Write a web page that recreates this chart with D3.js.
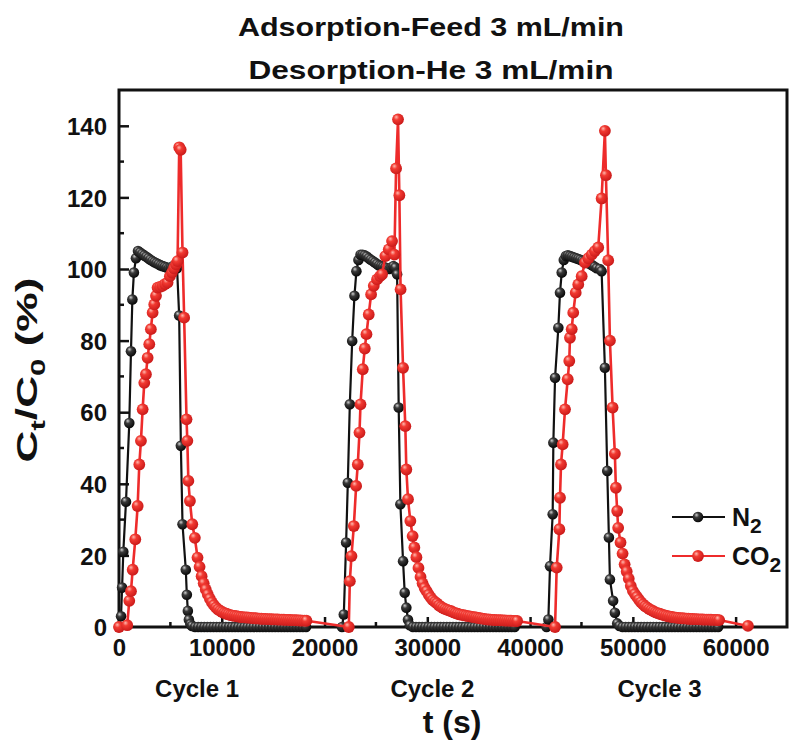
<!DOCTYPE html>
<html><head><meta charset="utf-8">
<script src="https://cdn.jsdelivr.net/npm/d3@7"></script>
<style>
html,body{margin:0;padding:0;background:#fff;}
svg text{font-family:"Liberation Sans",Arial,Helvetica,sans-serif;font-weight:bold;fill:#111;}
</style></head>
<body>
<svg id="chart" width="789" height="747"></svg>
<script>
// ---------- data (t in s, value in %) ----------
const titleLines = ["Adsorption-Feed 3 mL/min", "Desorption-He 3 mL/min"];
const xTicks = [0, 10000, 20000, 30000, 40000, 50000, 60000];
const yTicks = [0, 20, 40, 60, 80, 100, 120, 140];
const cycleLabels = ["Cycle 1", "Cycle 2", "Cycle 3"];
const cycleLabelT = [7600, 30500, 52600];

const n2Cycle1 = [[0,0],[200,3],[300,11],[420,21],[680,35],[1000,57],[1165,77],[1300,91.5],[1450,99],[1650,103],[1850,105],[2050,104.6],[2250,104.2],[2450,103.8],[2650,103.4],[2850,103],[3050,102.6],[3250,102.2],[3450,101.9],[3650,101.6],[3850,101.3],[4050,101],[4250,100.8],[4450,100.6],[4650,100.4],[4850,100.2],[5050,100.4],[5250,100.8],[5450,100.6],[5650,100.2],[5855,87],[6020,50.6],[6180,28.7],[6500,16],[6600,9],[6700,4.5],[6800,2],[6950,0.8],[7100,0.3],[7400,0],[7700,0],[8000,0],[8300,0],[8600,0],[8900,0],[9200,0],[9500,0],[9800,0],[10100,0],[10400,0],[10700,0],[11000,0],[11300,0],[11600,0],[11900,0],[12200,0],[12500,0],[12800,0],[13100,0],[13400,0],[13700,0],[14000,0],[14300,0],[14600,0],[14900,0],[15200,0],[15500,0],[15800,0],[16100,0],[16400,0],[16700,0],[17000,0],[17300,0],[17600,0],[17900,0],[18200,0]];
const n2Cycle2 = [[21700,0],[21875,3.5],[22100,23.6],[22265,40.3],[22460,62.2],[22690,79.9],[22910,92.5],[23100,99.4],[23300,102.5],[23500,104],[23700,104],[23900,103.8],[24100,103.5],[24300,103],[24500,102.6],[24700,102.2],[24900,101.8],[25100,101.4],[25300,101],[25500,100.8],[25700,100.6],[25900,100.4],[26100,100.2],[26300,100],[26500,100.4],[26700,100.8],[26900,100.4],[27060,98.5],[27215,61.3],[27380,34.3],[27640,18.4],[27800,9.6],[27960,5.4],[28120,2],[28300,0.5],[28600,0],[28900,0],[29200,0],[29500,0],[29800,0],[30100,0],[30400,0],[30700,0],[31000,0],[31300,0],[31600,0],[31900,0],[32200,0],[32500,0],[32800,0],[33100,0],[33400,0],[33700,0],[34000,0],[34300,0],[34600,0],[34900,0],[35200,0],[35500,0],[35800,0],[36100,0],[36400,0],[36700,0],[37000,0],[37300,0],[37600,0],[37900,0],[38200,0],[38500,0]];
const n2Cycle3 = [[41600,0],[41780,2.1],[41940,17],[42200,31.5],[42265,51.5],[42430,69.6],[42750,83.6],[42910,93.4],[43080,99],[43280,102.5],[43480,103.6],[43680,103.8],[43880,103.6],[44080,103.4],[44280,103.2],[44480,103],[44680,102.8],[44880,102.6],[45080,102.3],[45280,102],[45480,101.8],[45680,101.6],[45880,101.3],[46080,101],[46280,100.6],[46480,100.2],[46780,100],[46960,99.4],[47280,72.4],[47510,43.6],[47670,25],[47770,13.3],[48080,7.3],[48250,4],[48480,1],[48700,0.3],[49000,0],[49300,0],[49600,0],[49900,0],[50200,0],[50500,0],[50800,0],[51100,0],[51400,0],[51700,0],[52000,0],[52300,0],[52600,0],[52900,0],[53200,0],[53500,0],[53800,0],[54100,0],[54400,0],[54700,0],[55000,0],[55300,0],[55600,0],[55900,0],[56200,0],[56500,0],[56800,0],[57100,0],[57400,0],[57700,0],[58000,0],[58300,0]];

const co2Cycle1 = [[0,0],[800,0.5],[1000,7.3],[1165,10],[1330,16],[1585,24.5],[1815,33.8],[1975,45.4],[2135,52],[2300,60.8],[2460,68.2],[2620,70.6],[2785,75.2],[2945,79],[3100,83.2],[3270,87.8],[3430,90.1],[3600,92.5],[3755,94.8],[4000,95],[4240,95.3],[4480,95.8],[4725,96.2],[4950,98],[5150,99],[5350,100.2],[5550,101.3],[5700,102.2],[5860,134],[6000,133.3],[6180,104.6],[6340,86.4],[6570,58],[6650,52],[6750,40.8],[6900,35.2],[7130,28.7],[7380,24.9],[7640,19.4],[7840,16.8],[8040,14.2],[8240,12.2],[8440,10.5],[8640,9.1],[8840,7.9],[9040,6.9],[9240,6.1],[9440,5.4],[9640,4.9],[9840,4.5],[10040,4.2],[10240,3.9],[10440,3.7],[10640,3.5],[10840,3.3],[11040,3.2],[11240,3.1],[11440,3.0],[11640,2.9],[11840,2.8],[12040,2.75],[12240,2.7],[12440,2.65],[12640,2.6],[12840,2.55],[13040,2.5],[13240,2.45],[13440,2.4],[13640,2.35],[13840,2.3],[14040,2.28],[14240,2.25],[14440,2.22],[14640,2.2],[14840,2.17],[15040,2.15],[15240,2.12],[15440,2.1],[15640,2.08],[15840,2.05],[16040,2.02],[16240,2.0],[16440,1.98],[16640,1.95],[16840,1.92],[17040,1.9],[17240,1.88],[17440,1.85],[17640,1.82],[17840,1.8],[18040,1.78],[18240,1.75]];
const co2Cycle2 = [[22360,0],[22460,12.8],[22620,19.8],[22850,28.2],[23075,39.4],[23235,45.4],[23400,54.3],[23500,62.2],[23720,72],[23915,77.8],[24080,81.8],[24300,87.3],[24530,92.9],[24790,95.3],[25110,97.1],[25400,98],[25600,98.5],[25920,103.6],[26250,105.5],[26570,107.8],[26800,104],[26960,128.1],[27150,141.8],[27280,120.6],[27400,94.3],[27640,72.4],[27860,56.1],[27960,44],[28120,35.7],[28350,29.6],[28570,25.4],[28740,22.2],[28940,19.5],[29140,16.5],[29340,14.0],[29540,12.2],[29740,10.9],[29940,10.0],[30140,9.0],[30340,8.2],[30540,7.5],[30740,7.0],[30940,6.6],[31140,6.0],[31340,5.6],[31540,5.3],[31740,5.0],[31940,4.8],[32140,4.6],[32340,4.4],[32540,4.1],[32740,3.9],[32940,3.7],[33140,3.5],[33340,3.4],[33540,3.3],[33740,3.15],[33940,3.05],[34140,2.95],[34340,2.85],[34540,2.75],[34740,2.65],[34940,2.55],[35140,2.45],[35340,2.35],[35540,2.25],[35740,2.15],[35940,2.1],[36140,2.05],[36340,2.0],[36540,1.95],[36740,1.92],[36940,1.9],[37140,1.88],[37340,1.85],[37540,1.82],[37740,1.8],[37940,1.78],[38140,1.75],[38340,1.72],[38540,1.7],[38740,1.68]];
const co2Cycle3 = [[42430,0],[42590,16.6],[42850,27.3],[42910,36.1],[43010,45.4],[43170,51],[43400,60.8],[43660,69.2],[43815,74.3],[43880,80.8],[44050,83.2],[44200,87.8],[44440,93.4],[44690,95.7],[45020,98],[45340,101.8],[45670,103],[46000,104],[46300,105],[46630,106],[46960,119.7],[47280,138.6],[47380,126.2],[47600,102.4],[47770,80],[48030,61.3],[48250,48.4],[48350,38.9],[48480,32.4],[48570,27.7],[48800,23.6],[49000,20.5],[49200,17.5],[49400,15.5],[49600,13.5],[49800,11.5],[50000,10.1],[50200,9.2],[50400,8.4],[50600,7.6],[50800,6.9],[51000,6.3],[51200,5.8],[51400,5.4],[51600,5.0],[51800,4.7],[52000,4.4],[52200,4.1],[52400,3.9],[52600,3.7],[52800,3.5],[53000,3.3],[53200,3.15],[53400,3.0],[53600,2.9],[53800,2.8],[54000,2.7],[54200,2.6],[54400,2.55],[54600,2.5],[54800,2.45],[55000,2.4],[55200,2.35],[55400,2.3],[55600,2.27],[55800,2.24],[56000,2.2],[56200,2.18],[56400,2.15],[56600,2.12],[56800,2.1],[57000,2.08],[57200,2.06],[57400,2.04],[57600,2.02],[57800,2.0],[58000,1.98],[58200,1.96],[58400,1.94],[61200,0.3]];

const n2Data = n2Cycle1.concat(n2Cycle2, n2Cycle3);
const co2Data = co2Cycle1.concat(co2Cycle2, co2Cycle3);

// ---------- drawing ----------
const svg = d3.select("#chart");
const L = 119, R = 787, T = 90, B = 627;
const x = d3.scaleLinear().domain([0, 65000]).range([L, R]);
const y = d3.scaleLinear().domain([0, 150]).range([B, T]);

const defs = svg.append("defs");
function sphere(id, c0, c1, c2) {
  const g = defs.append("radialGradient").attr("id", id)
    .attr("cx", "40%").attr("cy", "38%").attr("r", "65%").attr("fx", "35%").attr("fy", "30%");
  g.append("stop").attr("offset", "0%").attr("stop-color", c0);
  g.append("stop").attr("offset", "35%").attr("stop-color", c1);
  g.append("stop").attr("offset", "100%").attr("stop-color", c2);
}
sphere("gBlack", "#d0d0d0", "#3a3a3a", "#050505");
sphere("gRed", "#ffb8ae", "#f23a32", "#c81818");

// titles
svg.append("text").attr("x", 431).attr("y", 36).attr("text-anchor", "middle")
  .attr("font-size", 25).attr("textLength", 386).attr("lengthAdjust", "spacingAndGlyphs").text(titleLines[0]);
svg.append("text").attr("x", 431).attr("y", 79).attr("text-anchor", "middle")
  .attr("font-size", 25).attr("textLength", 365).attr("lengthAdjust", "spacingAndGlyphs").text(titleLines[1]);

// axes
const xAxis = d3.axisBottom(x).tickValues(xTicks).tickFormat(d3.format("d")).tickSizeInner(-10).tickSizeOuter(0).tickPadding(12);
const gx = svg.append("g").attr("transform", `translate(0,${B})`).call(xAxis);
const yAxis = d3.axisLeft(y).tickValues(yTicks).tickSizeInner(-10).tickSizeOuter(0).tickPadding(12);
const gy = svg.append("g").attr("transform", `translate(${L},0)`).call(yAxis);
[gx, gy].forEach(g => {
  g.select(".domain").remove();
  g.selectAll(".tick line").attr("stroke", "#111").attr("stroke-width", 2.5);
  g.selectAll(".tick text").attr("font-size", 24).attr("fill", "#111")
    .style("font-family", '"Liberation Sans",Arial,sans-serif').style("font-weight", "bold");
});
gy.selectAll(".tick text").attr("dy", "0.36em");
// minor ticks
const xMinor = d3.range(5000, 65000, 10000);
svg.append("g").selectAll("line").data(xMinor).join("line")
  .attr("x1", d => x(d)).attr("x2", d => x(d)).attr("y1", B).attr("y2", B - 5)
  .attr("stroke", "#111").attr("stroke-width", 2.5);
const yMinor = d3.range(10, 150, 20);
svg.append("g").selectAll("line").data(yMinor).join("line")
  .attr("x1", L).attr("x2", L + 5).attr("y1", d => y(d)).attr("y2", d => y(d))
  .attr("stroke", "#111").attr("stroke-width", 2.5);

// frame
svg.append("rect").attr("x", L).attr("y", T).attr("width", R - L).attr("height", B - T)
  .attr("fill", "none").attr("stroke", "#111").attr("stroke-width", 3);

// cycle labels
svg.append("g").selectAll("text").data(cycleLabels).join("text")
  .attr("x", (d, i) => x(cycleLabelT[i])).attr("y", 697).attr("text-anchor", "middle")
  .attr("font-size", 24).text(d => d);

// axis titles
svg.append("text").attr("x", 452).attr("y", 733).attr("text-anchor", "middle")
  .attr("font-size", 32).text("t (s)");
const yl = svg.append("text").attr("transform", "translate(37,370) rotate(-90)")
  .attr("text-anchor", "middle").attr("font-size", 30)
  .attr("textLength", 185).attr("lengthAdjust", "spacingAndGlyphs");
yl.append("tspan").text("C");
yl.append("tspan").attr("dy", 8).attr("font-size", 21).text("t");
yl.append("tspan").attr("dy", -8).text("/C");
yl.append("tspan").attr("dy", 8).attr("font-size", 21).text("0");
yl.append("tspan").attr("dy", -8).text(" (%)");

// series
const line = d3.line().x(d => x(d[0])).y(d => y(d[1]));
const plot = svg.append("g");
function series(data, color, grad, r, w) {
  plot.append("path").datum(data).attr("d", line).attr("fill", "none")
    .attr("stroke", color).attr("stroke-width", w).attr("stroke-linejoin", "round");
  plot.append("g").selectAll("circle").data(data).join("circle")
    .attr("cx", d => x(d[0])).attr("cy", d => y(d[1])).attr("r", r)
    .attr("fill", `url(#${grad})`);
}
series(n2Data, "#111", "gBlack", 5.3, 2.2);
series(co2Data, "#ee2b2b", "gRed", 5.9, 2.6);

// legend
const legend = [
  {name: "N", sub: "2", color: "#111", grad: "gBlack", r: 5.3, y: 517},
  {name: "CO", sub: "2", color: "#ee2b2b", grad: "gRed", r: 5.9, y: 556}
];
const lg = svg.append("g");
legend.forEach(d => {
  lg.append("line").attr("x1", 672).attr("x2", 725).attr("y1", d.y).attr("y2", d.y)
    .attr("stroke", d.color).attr("stroke-width", 2);
  lg.append("circle").attr("cx", 698).attr("cy", d.y).attr("r", d.r).attr("fill", `url(#${d.grad})`);
  const t = lg.append("text").attr("x", 732).attr("y", d.y + 9).attr("font-size", 25);
  t.append("tspan").text(d.name);
  t.append("tspan").attr("dy", 7).attr("font-size", 21).text(d.sub);
});
</script>
</body></html>
